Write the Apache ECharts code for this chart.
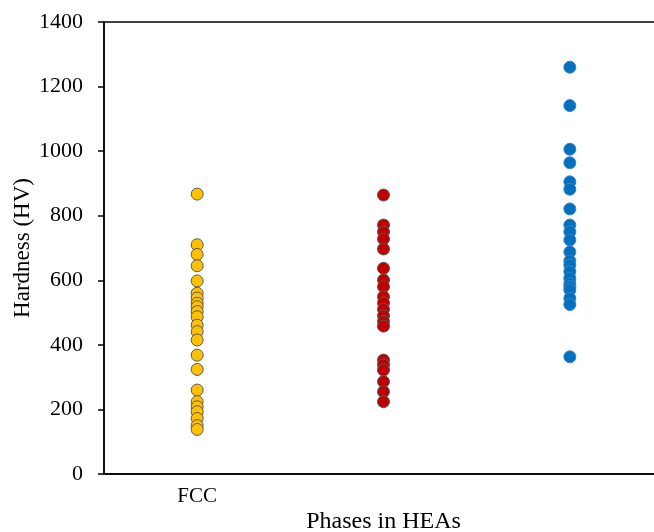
<!DOCTYPE html>
<html><head><meta charset="utf-8">
<script src="https://cdn.jsdelivr.net/npm/echarts@6/dist/echarts.min.js"></script>
<style>html,body{margin:0;padding:0;background:#fff}#c{width:654px;height:532px}</style>
</head><body><div id="c"></div>
<script>
const categories = ["FCC", " ", "  "];
const yTicks = [0, 200, 400, 600, 800, 1000, 1200, 1400];
const fccValues = [867, 710, 680, 645, 598, 560, 545, 529, 518, 503, 487, 461, 441, 415, 368, 324, 260, 224, 208, 193, 172, 150, 138];
const mixedValues = [864, 771, 750, 728, 697, 637, 601, 580, 549, 530, 510, 490, 472, 458, 353, 338, 322, 286, 255, 224];
const bccValues = [1260, 1141, 1006, 964, 905, 882, 821, 771, 750, 725, 688, 660, 647, 627, 606, 590, 580, 570, 544, 525, 363];

const font = '"Liberation Serif", "Times New Roman", serif';
function pts(idx, vals) { return vals.map(v => [idx, v]); }

const chart = echarts.init(document.getElementById('c'), null, {renderer: 'canvas'});
chart.setOption({
  animation: false,
  grid: {left: 104, top: 22, right: -9, bottom: 58, containLabel: false, outerBoundsMode: 'none',
         show: true, borderColor: '#000', borderWidth: 1.5, backgroundColor: 'transparent'},
  xAxis: {
    type: 'category', data: categories, boundaryGap: true,
    axisLine: {lineStyle: {color: '#000', width: 1.5}},
    axisTick: {show: false},
    axisLabel: {color: '#000', fontFamily: font, fontSize: 21, margin: 12},
    name: 'Phases in HEAs', nameLocation: 'middle', nameGap: 36, nameMoveOverlap: false,
    nameTextStyle: {color: '#000', fontFamily: font, fontSize: 24}
  },
  yAxis: {
    type: 'value', min: yTicks[0], max: yTicks[yTicks.length - 1], interval: 200,
    axisLine: {show: true, lineStyle: {color: '#000', width: 1.5}},
    axisTick: {show: true, length: 6, lineStyle: {color: '#000', width: 1.5}},
    splitLine: {show: false},
    axisLabel: {color: '#000', fontFamily: font, fontSize: 22, margin: 21, formatter: v => String(v)},
    name: 'Hardness (HV)', nameLocation: 'middle', nameGap: 70, nameRotate: 90, nameMoveOverlap: false,
    nameTextStyle: {color: '#000', fontFamily: font, fontSize: 23}
  },
  series: [
    {type: 'scatter', data: pts(0, fccValues), symbolSize: 12,
     itemStyle: {color: '#FFC000', borderColor: '#595959', borderWidth: 1, opacity: 1}},
    {type: 'scatter', data: pts(1, mixedValues), symbolSize: 12,
     itemStyle: {color: '#C00000', borderColor: '#595959', borderWidth: 1, opacity: 1}},
    {type: 'scatter', data: pts(2, bccValues), symbolSize: 12,
     itemStyle: {color: '#0070C0', borderColor: '#3f7fbf', borderWidth: 1, opacity: 1}}
  ]
});
</script></body></html>
